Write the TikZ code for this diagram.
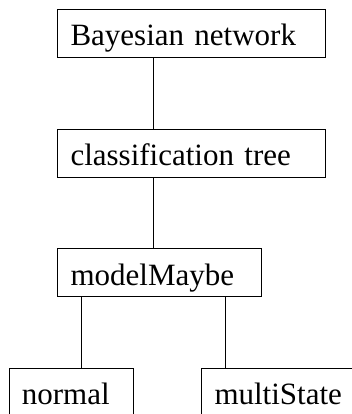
\documentclass[tikz,border=0pt]{standalone}
\usepackage{fontspec}
\setmainfont{Liberation Serif}
\usepackage{tikz}
\usetikzlibrary{positioning}
\tikzset{
	every node/.style={font=\fontsize{31pt}{36pt}\selectfont}, % large serif labels
	treebox/.style={draw, line width=1pt, rectangle, anchor=north west, align=left,
		inner xsep=12.7pt, inner ysep=0pt, text height=36.3pt, text depth=11.7pt}, % boxes of the tree
	link/.style={line width=1pt}, % plain connecting lines
}

\begin{document}
\begin{tikzpicture}
		\useasboundingbox (0,0) rectangle (352pt,-414pt);
		\node[treebox,text width=242.6pt] (bn) at (57.3pt,-8.7pt) {Bayesian network};
		\node[treebox,text width=242.6pt] (ct) at (57.3pt,-128.7pt) {classification tree};
		\node[treebox,text width=178.3pt] (mm) at (57.3pt,-248.3pt) {modelMaybe};
		\node[treebox,text width=99.2pt] (nm) at (8.7pt,-367.7pt) {normal};
		\node[treebox,text width=130pt] (ms) at (201.3pt,-367.7pt) {multiState};
		
		\draw[link] ([xshift=96pt]bn.south west) -- ([xshift=96pt]ct.north west);
		\draw[link] ([xshift=96pt]ct.south west) -- ([xshift=96pt]mm.north west);
		\draw[link] ([xshift=24pt]mm.south west) -- ([xshift=24pt]mm.south west |- nm.north);
		\draw[link] ([xshift=168pt]mm.south west) -- ([xshift=24pt]ms.north west);
	\end{tikzpicture}
\end{document}
